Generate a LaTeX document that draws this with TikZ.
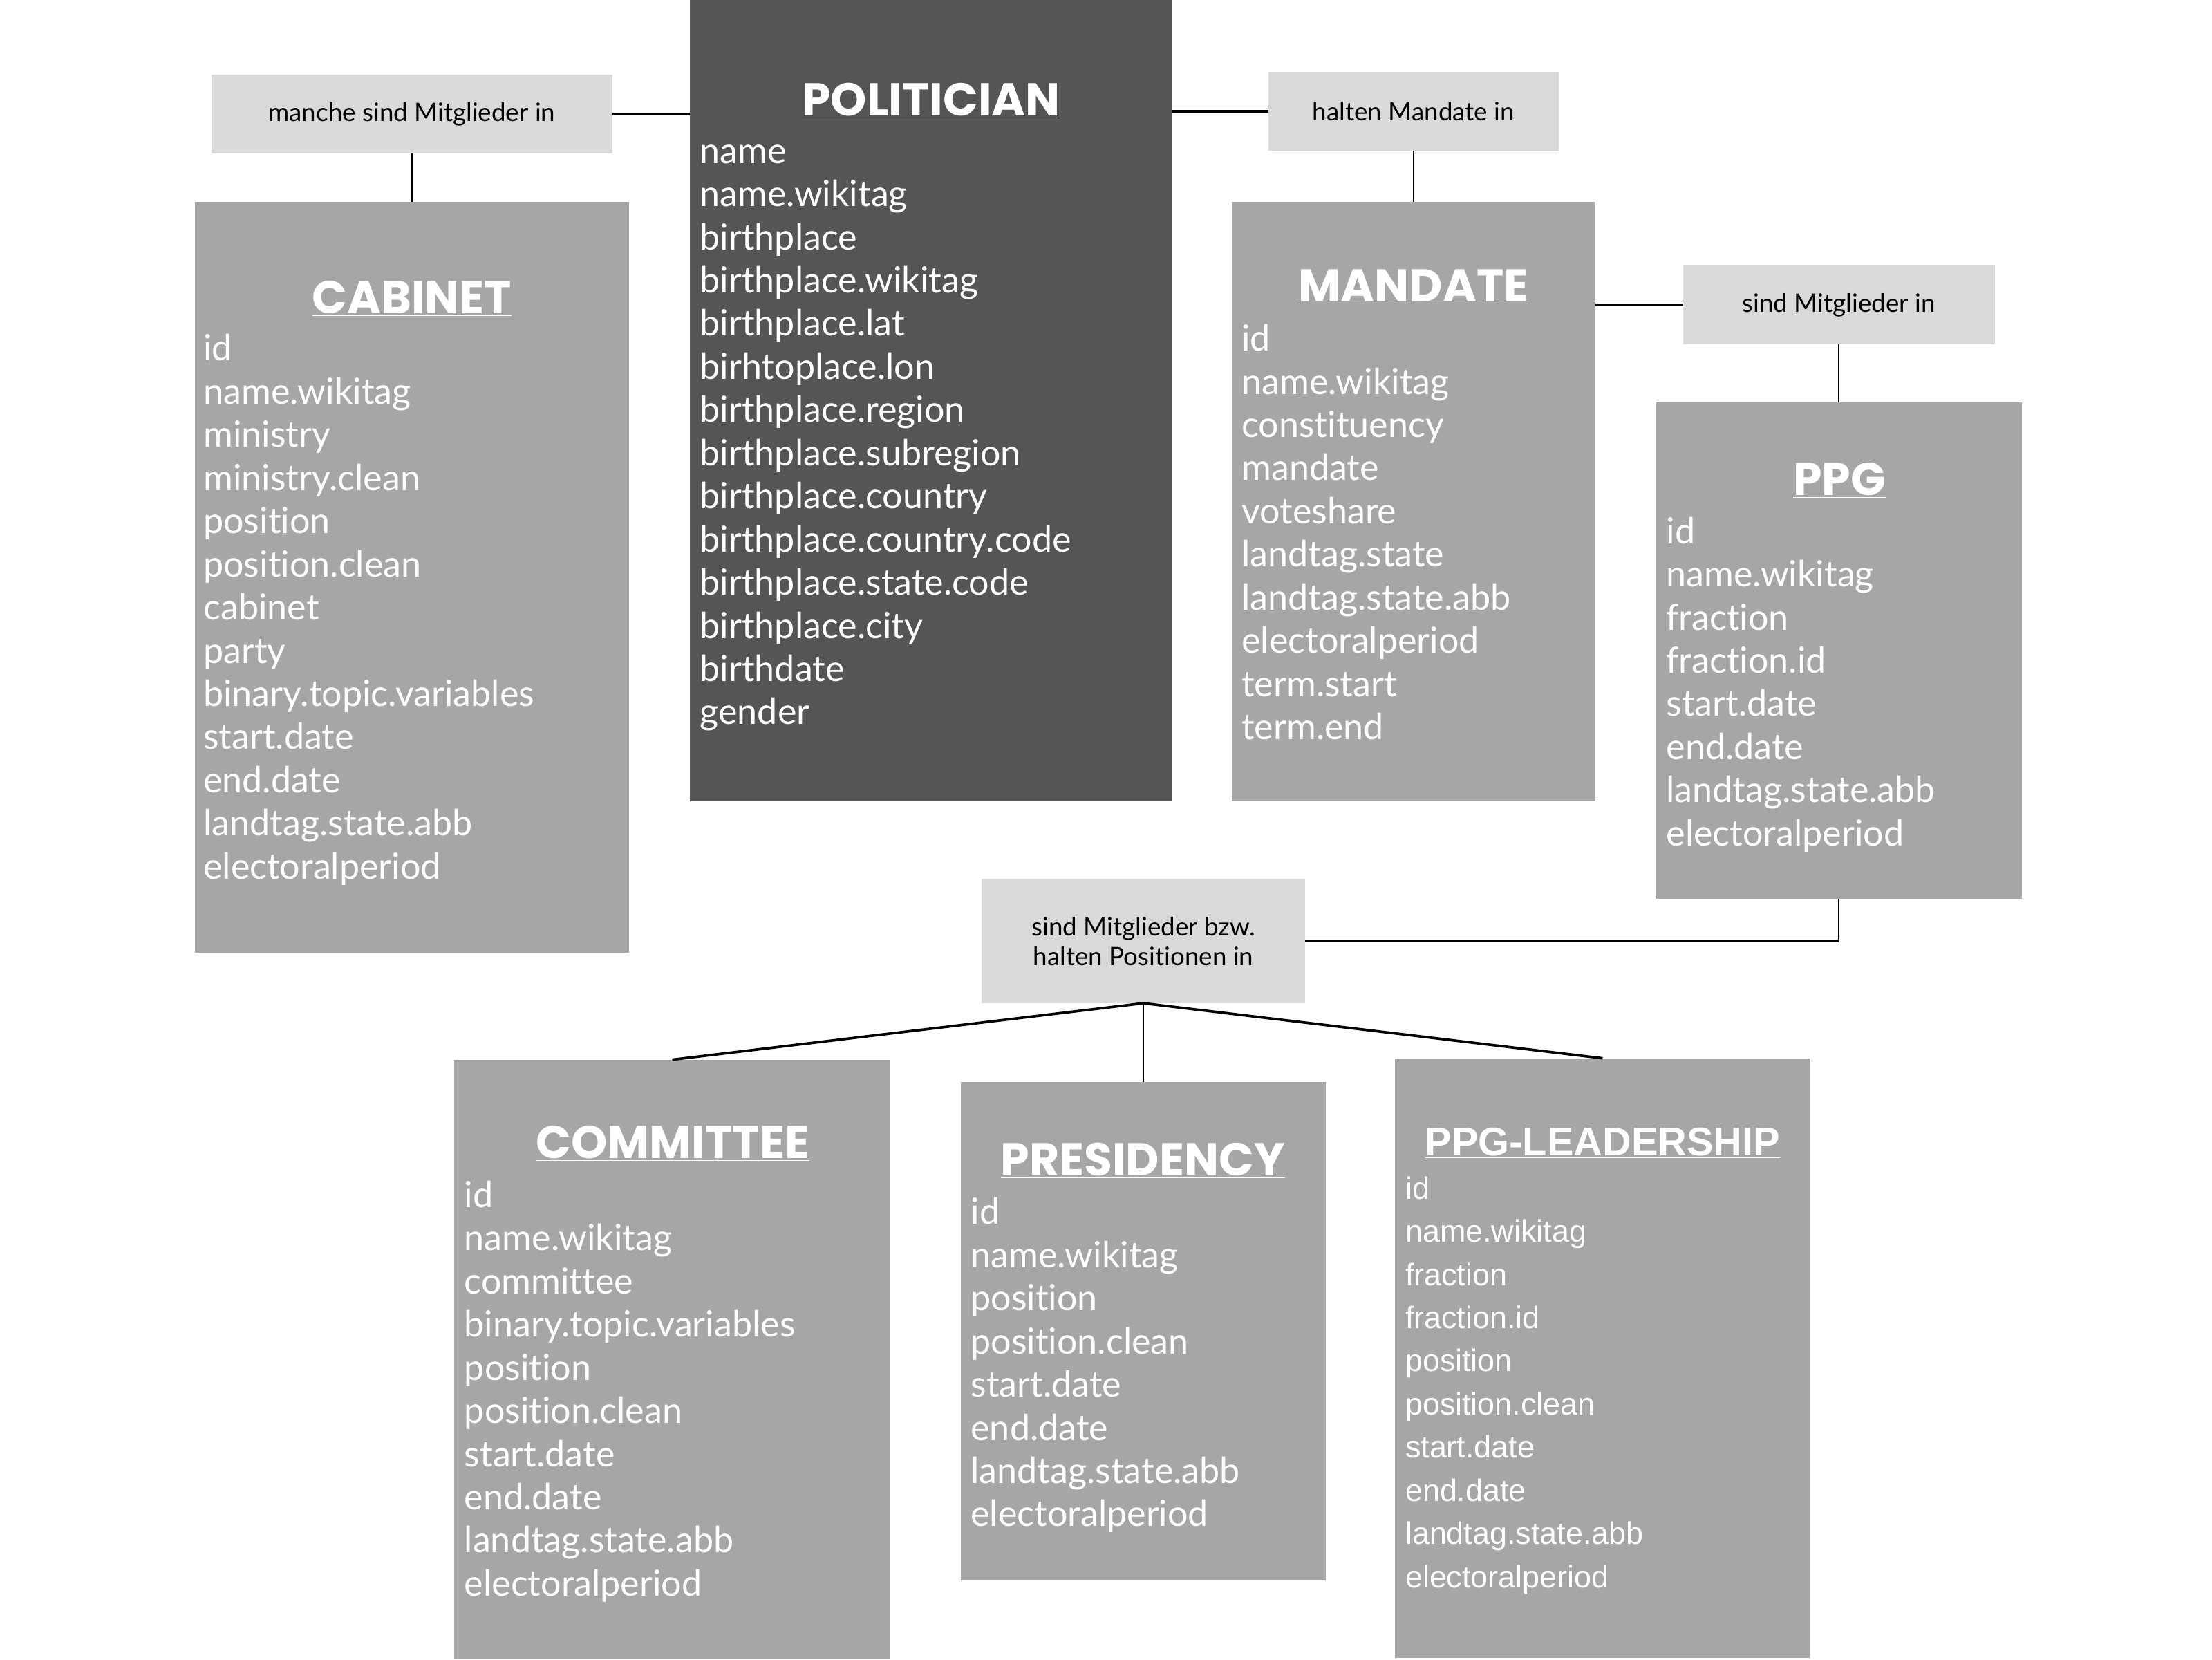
\documentclass[tikz,border=0pt]{standalone}
\usepackage{fontspec}
\setmainfont{Lato}[Ligatures={NoCommon,NoRare,NoContextual}]
\newfontfamily\titlefont{Poppins}
\newfontfamily\arialfont{Liberation Sans}

\definecolor{darkbox}{HTML}{555555}
\definecolor{entitygray}{HTML}{A6A6A6}
\definecolor{relgray}{HTML}{D9D9D9}

\newcommand{\attrstrut}{\rule{0pt}{24pt}}

\tikzset{
  entity/.style={fill=entitygray, anchor=north west, inner sep=0pt, outer sep=0pt},
  relation/.style={fill=relgray, inner sep=0pt, outer sep=0pt, align=center,
    font=\fontsize{18}{21}\selectfont},
  title/.style={text=white, anchor=base, inner sep=0pt,
    font=\titlefont\bfseries\fontsize{32.6}{32.6}\selectfont},
  attrs/.style={text=white, align=left, anchor=north west, inner sep=0pt,
    font=\fontsize{25.5}{30.6}\selectfont},
  thickline/.style={line width=1.8pt},
  thinline/.style={line width=1pt},
}

\begin{document}
\begin{tikzpicture}[x=1pt, y=-1pt]
  \useasboundingbox[fill=white] (0,0) rectangle (1568,1176);

  % entities
  \node[entity, fill=darkbox, minimum width=342pt, minimum height=568pt] (politician) at (489,0) {};
  \node[entity, minimum width=308pt, minimum height=532pt] (cabinet) at (138,143) {};
  \node[entity, minimum width=258pt, minimum height=425pt] (mandate) at (873,143) {};
  \node[entity, minimum width=259pt, minimum height=352pt] (ppg) at (1174,285) {};
  \node[entity, minimum width=309pt, minimum height=425pt] (committee) at (322,751) {};
  \node[entity, minimum width=259pt, minimum height=353pt] (presidency) at (681,767) {};
  \node[entity, minimum width=294pt, minimum height=425pt] (ppglead) at (989,750) {};

  % relations
  \node[relation, minimum width=284pt, minimum height=56pt] (rel1) at (292,81) {manche sind Mitglieder in};
  \node[relation, minimum width=206pt, minimum height=56pt] (rel2) at (1002,79) {halten Mandate in};
  \node[relation, minimum width=221pt, minimum height=56pt] (rel3) at (1303.5,216) {sind Mitglieder in};
  \node[relation, minimum width=229pt, minimum height=88pt] (rel4) at (810.5,667) {sind Mitglieder bzw.\\halten Positionen in};

  % titles
  \node[title] (politiciantitle) at (660,82) {\underline{POLITICIAN}};
  \node[title] (cabinettitle) at (292,222) {\underline{CABINET}};
  \node[title] (mandatetitle) at (1002,214) {\underline{MANDATE}};
  \node[title] (ppgtitle) at (1304,351) {\underline{PPG}};
  \node[title] (committeetitle) at (477,821) {\underline{COMMITTEE}};
  \node[title] (presidencytitle) at (810,833) {\underline{PRESIDENCY}};
  \node[title, font=\arialfont\bfseries\fontsize{28.3}{28.3}\selectfont] (ppgleadtitle) at (1136,819) {\underline{PPG-LEADERSHIP}};

  % attributes (first baseline = y + 24)
  \node[attrs] (politicianattrs) at (496,91.5) {\attrstrut name\\name.wikitag\\birthplace\\birthplace.wikitag\\birthplace.lat\\birhtoplace.lon\\birthplace.region\\birthplace.subregion\\birthplace.country\\birthplace.country.code\\birthplace.state.code\\birthplace.city\\birthdate\\gender};
  \node[attrs] (cabinetattrs) at (144,231.5) {\attrstrut id\\name.wikitag\\ministry\\ministry.clean\\position\\position.clean\\cabinet\\party\\binary.topic.variables\\start.date\\end.date\\landtag.state.abb\\electoralperiod};
  \node[attrs] (mandateattrs) at (880,224.5) {\attrstrut id\\name.wikitag\\constituency\\mandate\\voteshare\\landtag.state\\landtag.state.abb\\electoralperiod\\term.start\\term.end};
  \node[attrs] (ppgattrs) at (1181,361) {\attrstrut id\\name.wikitag\\fraction\\fraction.id\\start.date\\end.date\\landtag.state.abb\\electoralperiod};
  \node[attrs] (committeeattrs) at (329,831.5) {\attrstrut id\\name.wikitag\\committee\\binary.topic.variables\\position\\position.clean\\start.date\\end.date\\landtag.state.abb\\electoralperiod};
  \node[attrs] (presidencyattrs) at (688,843.5) {\attrstrut id\\name.wikitag\\position\\position.clean\\start.date\\end.date\\landtag.state.abb\\electoralperiod};
  \node[attrs, font=\arialfont\fontsize{22}{30.6}\selectfont] (ppgleadattrs) at (996,825.5) {\attrstrut id\\name.wikitag\\fraction\\fraction.id\\position\\position.clean\\start.date\\end.date\\landtag.state.abb\\electoralperiod};

  % connectors
  \coordinate (ppgcorner) at (ppg.south |- rel4.east);
  \draw[thickline] (rel1.east) -- (politician.west |- rel1.east);
  \draw[thinline] (rel1.south) -- (cabinet.north);
  \draw[thickline] (politician.east |- rel2.west) -- (rel2.west);
  \draw[thinline] (rel2.south) -- (mandate.north);
  \draw[thickline] (mandate.east |- rel3.west) -- (rel3.west);
  \draw[thinline] (rel3.south) -- (ppg.north);
  \draw[thinline] (ppg.south) -- (ppgcorner);
  \draw[thickline] (rel4.east) -- (ppgcorner);
  \draw[thickline] (rel4.south) -- (committee.north);
  \draw[thinline] (rel4.south) -- (presidency.north);
  \draw[thickline] (rel4.south) -- (ppglead.north);
\end{tikzpicture}
\end{document}
